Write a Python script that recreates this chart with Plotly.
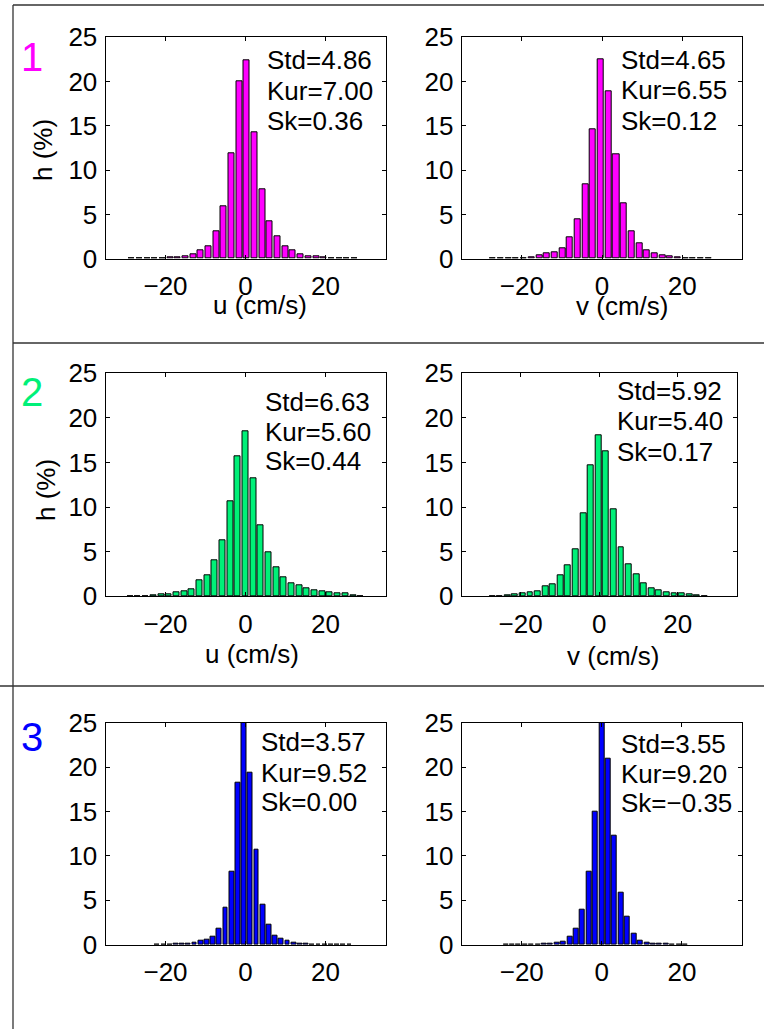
import plotly.graph_objects as go

W, H = 764, 1029

# ---------------- data ----------------
u1_x = [-28.45, -26.53, -24.61, -22.69, -20.77, -18.85, -16.93, -15.01, -13.09, -11.17,
        -9.25, -7.33, -5.41, -3.49, -1.57, 0.35, 2.27, 4.19, 6.11, 8.03,
        9.95, 11.87, 13.79, 15.71, 17.63, 19.55, 21.47, 23.39, 25.31, 27.23]
u1_h = [0.02, 0.02, 0.03, 0.05, 0.08, 0.12, 0.15, 0.28, 0.55, 0.95,
        1.4, 3.05, 5.9, 11.95, 20.05, 22.45, 14.3, 7.8, 4.25, 2.55,
        1.45, 0.98, 0.55, 0.3, 0.22, 0.15, 0.06, 0.04, 0.03, 0.02]

v1_x = [-27.18, -25.26, -23.34, -21.42, -19.5, -17.58, -15.66, -13.74, -11.82, -9.9,
        -7.98, -6.06, -4.14, -2.22, -0.3, 1.62, 3.54, 5.46, 7.38, 9.3,
        11.22, 13.14, 15.06, 16.98, 18.9, 20.82, 22.74, 24.66, 26.58]
v1_h = [0.02, 0.02, 0.03, 0.04, 0.06, 0.2, 0.36, 0.6, 0.7, 1.18,
        2.42, 4.45, 8.4, 14.65, 22.5, 18.95, 11.8, 6.25, 3.1, 1.75,
        0.95, 0.57, 0.36, 0.24, 0.12, 0.06, 0.04, 0.03, 0.02]

u2_x = [-28.8, -26.88, -24.96, -23.04, -21.12, -19.2, -17.28, -15.36, -13.44, -11.52,
        -9.6, -7.68, -5.76, -3.84, -1.92, 0.0, 1.92, 3.84, 5.76, 7.68,
        9.6, 11.52, 13.44, 15.36, 17.28, 19.2, 21.12, 23.04, 24.96, 26.88, 28.8]
u2_h = [0.02, 0.03, 0.04, 0.1, 0.22, 0.28, 0.49, 0.6, 0.8, 1.76,
        2.32, 4.0, 6.3, 10.65, 15.65, 18.55, 13.2, 8.0, 4.95, 3.25,
        2.17, 1.5, 1.2, 0.86, 0.72, 0.56, 0.48, 0.38, 0.3, 0.15, 0.03]

v2_x = [-27.22, -25.29, -23.36, -21.43, -19.5, -17.57, -15.64, -13.71, -11.78, -9.85,
        -7.92, -5.99, -4.06, -2.13, -0.2, 1.73, 3.66, 5.59, 7.52, 9.45,
        11.38, 13.31, 15.24, 17.17, 19.1, 21.03, 22.96, 24.89, 26.82]
v2_h = [0.03, 0.05, 0.08, 0.22, 0.3, 0.45, 0.55, 1.15, 1.35, 2.4,
        3.45, 5.3, 9.35, 14.68, 18.05, 16.25, 9.7, 5.5, 3.6, 2.45,
        1.45, 0.88, 0.62, 0.45, 0.3, 0.33, 0.18, 0.08, 0.04]

u3_x = [-22.07, -20.52, -18.97, -17.42, -15.87, -14.32, -12.77, -11.22, -9.67, -8.12,
        -6.57, -5.02, -3.47, -1.92, -0.37, 1.18, 2.73, 4.28, 5.83, 7.38,
        8.93, 10.48, 12.03, 13.58, 15.13, 16.68, 18.23, 19.78, 21.33, 22.88, 24.43, 25.98]
u3_h = [0.02, 0.03, 0.04, 0.06, 0.08, 0.1, 0.2, 0.41, 0.6, 0.9,
        1.8, 4.17, 8.2, 18.2, 27.0, 19.4, 10.7, 4.55, 2.2, 1.0,
        0.72, 0.42, 0.2, 0.1, 0.06, 0.04, 0.03, 0.03, 0.02, 0.03, 0.02, 0.02]

v3_x = [-24.0, -22.4, -20.8, -19.2, -17.6, -16.0, -14.4, -12.8, -11.2, -9.6,
        -8.0, -6.4, -4.8, -3.2, -1.6, 0.0, 1.6, 3.2, 4.8, 6.4,
        8.0, 9.6, 11.2, 12.8, 14.4, 16.0, 17.6, 19.2, 20.8]
v3_h = [0.02, 0.02, 0.02, 0.03, 0.03, 0.04, 0.08, 0.15, 0.26, 0.3,
        0.85, 1.85, 3.9, 8.25, 14.95, 27.0, 20.95, 12.3, 5.85, 3.1,
        1.25, 0.45, 0.2, 0.11, 0.08, 0.1, 0.04, 0.03, 0.02]

stats_labels = [
    ["Std=4.86", "Kur=7.00", "Sk=0.36"],
    ["Std=4.65", "Kur=6.55", "Sk=0.12"],
    ["Std=6.63", "Kur=5.60", "Sk=0.44"],
    ["Std=5.92", "Kur=5.40", "Sk=0.17"],
    ["Std=3.57", "Kur=9.52", "Sk=0.00"],
    ["Std=3.55", "Kur=9.20", "Sk=\u22120.35"],
]
xlabels = ["u (cm/s)", "v (cm/s)", "u (cm/s)", "v (cm/s)", "", ""]
ylabel = "h (%)"
row_names = ["1", "2", "3"]
row_colors = ["#FF00FF", "#00F078", "#0000FF"]

x_ticks = [-20, 0, 20]
x_ticktext = ["\u221220", "0", "20"]
y_ticks = [0, 5, 10, 15, 20, 25]

# ---------------- layout helpers ----------------
def px(x):
    return x / W

def py(y):
    return 1 - y / H

FONT = "Liberation Sans, Arial, sans-serif"
FS = 26

# panel boxes in pixels: (left, right, top, bottom)
boxes = [
    (105.5, 385.5, 37.3, 258.7),
    (461.7, 742.3, 37.3, 258.7),
    (105.5, 385.5, 373.3, 596.3),
    (461.7, 736.7, 373.3, 596.3),
    (105.5, 385.5, 722.7, 944.7),
    (461.7, 742.0, 722.7, 944.7),
]
bar_widths = [1.5, 1.5, 1.5, 1.5, 1.2, 1.25]

data = [(u1_x, u1_h), (v1_x, v1_h), (u2_x, u2_h), (v2_x, v2_h), (u3_x, u3_h), (v3_x, v3_h)]

fig = go.Figure()
layout = dict(
    width=W, height=H,
    margin=dict(l=0, r=0, t=0, b=0, pad=0),
    paper_bgcolor="white", plot_bgcolor="white",
    showlegend=False,
    font=dict(family=FONT, size=FS, color="black"),
    bargap=0,
)

for i, ((xs, hs), box) in enumerate(zip(data, boxes)):
    n = "" if i == 0 else str(i + 1)
    color = row_colors[i // 2]
    fig.add_trace(go.Bar(
        x=xs, y=hs, width=bar_widths[i],
        marker=dict(color=color, line=dict(color="black", width=1)),
        xaxis="x" + n, yaxis="y" + n, hoverinfo="skip",
    ))
    l, r, t, b = box
    axcommon = dict(showline=True, linecolor="black", linewidth=1, mirror="ticks",
                    ticks="inside", ticklen=4, tickcolor="black", showgrid=False,
                    zeroline=False, automargin=False,
                    tickfont=dict(family=FONT, size=FS, color="black"))
    layout["xaxis" + n] = dict(axcommon, domain=[px(l), px(r)], range=[-35, 35],
                               tickvals=x_ticks, ticktext=x_ticktext,
                               anchor="y" + n, ticklabelstandoff=4)
    layout["yaxis" + n] = dict(axcommon, domain=[py(b), py(t)], range=[0, 25],
                               tickvals=y_ticks, anchor="x" + n, ticklabelstandoff=2)

fig.update_layout(**layout)

ann = []
# stats text: (left px, [y centers px])
stat_pos = [
    (265, [60, 91, 121]),
    (619, [60, 90, 121]),
    (263, [402, 432, 461]),
    (615, [391, 421, 452]),
    (259, [742, 773, 802]),
    (619, [744, 774, 803]),
]
for lines, (lx, ys) in zip(stats_labels, stat_pos):
    for txt, yy in zip(lines, ys):
        ann.append(dict(text=txt, x=px(lx), y=py(yy), xref="paper", yref="paper",
                        xanchor="left", yanchor="middle", showarrow=False,
                        font=dict(family=FONT, size=FS, color="black")))

# x labels
xlab_pos = [(260, 305), (622, 306), (252, 654), (613, 656)]
for txt, (cx, cy) in zip(xlabels[:4], xlab_pos):
    ann.append(dict(text=txt, x=px(cx), y=py(cy), xref="paper", yref="paper",
                    xanchor="center", yanchor="middle", showarrow=False,
                    font=dict(family=FONT, size=FS, color="black")))

# y labels
for cx, cy in [(43, 150), (46, 490)]:
    ann.append(dict(text=ylabel, x=px(cx), y=py(cy), xref="paper", yref="paper",
                    xanchor="center", yanchor="middle", textangle=-90, showarrow=False,
                    font=dict(family=FONT, size=FS, color="black")))

# row numbers
for name, col, cy in zip(row_names, row_colors, [57, 392, 737]):
    ann.append(dict(text=name, x=px(19), y=py(cy), xref="paper", yref="paper",
                    xanchor="left", yanchor="middle", showarrow=False,
                    font=dict(family=FONT, size=40, color=col)))

fig.update_layout(annotations=ann)

# frame lines
lc = "#333333"
shapes = [
    dict(type="line", xref="paper", yref="paper", x0=px(13), x1=1, y0=py(5), y1=py(5)),
    dict(type="line", xref="paper", yref="paper", x0=px(13), x1=1, y0=py(343), y1=py(343)),
    dict(type="line", xref="paper", yref="paper", x0=0, x1=1, y0=py(686), y1=py(686)),
    dict(type="line", xref="paper", yref="paper", x0=px(13), x1=px(13), y0=py(5), y1=0),
]
for s in shapes:
    s["line"] = dict(color=lc, width=1.3)
fig.update_layout(shapes=shapes)

fig.write_html("out.html", config={"displayModeBar": False},
               post_script="document.body.style.margin='0';document.body.style.padding='0';")
